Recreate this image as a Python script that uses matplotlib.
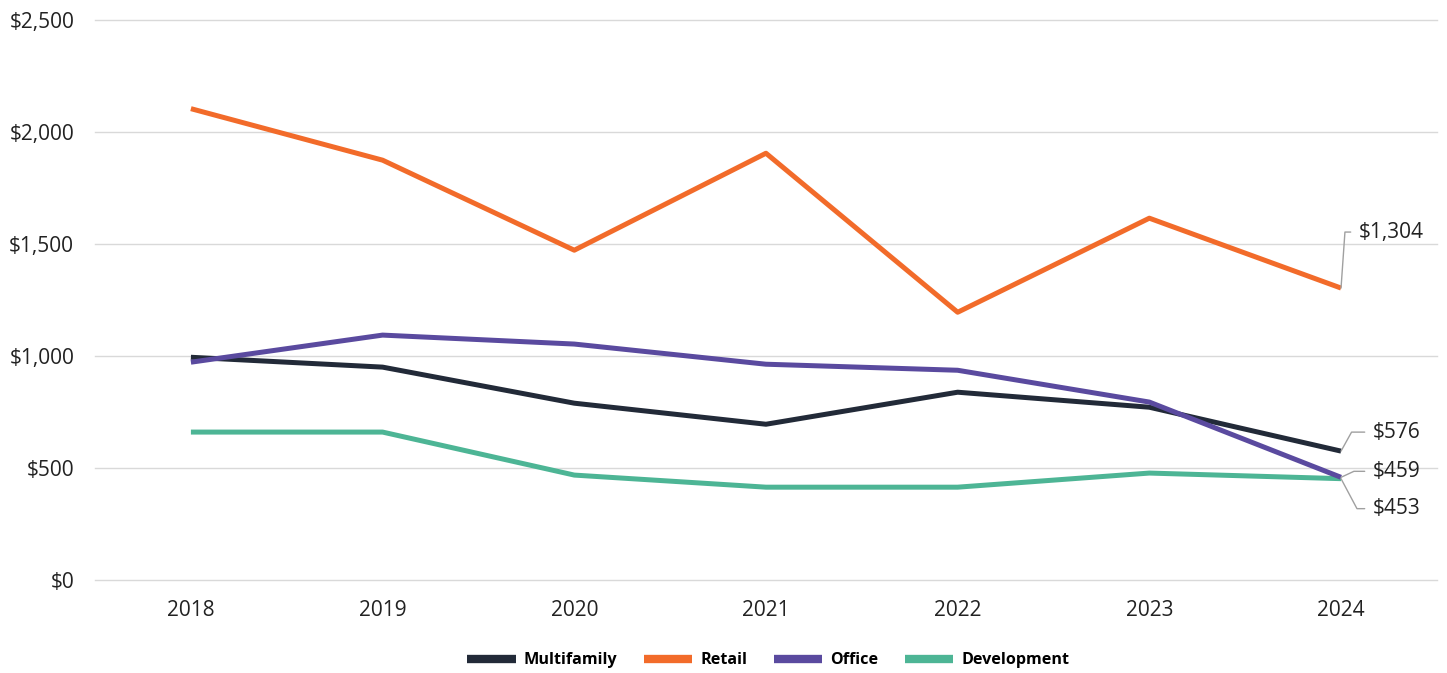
import numpy as np
import matplotlib.pyplot as plt
from matplotlib.ticker import FuncFormatter

# Werte
years = ['2018', '2019', '2020', '2021', '2022', '2023', '2024']
multifamily = [995, 951, 790, 696, 839, 772, 576]
retail = [2105, 1875, 1473, 1906, 1196, 1616, 1304]
office = [973, 1094, 1054, 964, 937, 795, 459]
development = [661, 661, 469, 415, 415, 478, 453]

series_names = ['Multifamily', 'Retail', 'Office', 'Development']
colors = ['#222a38', '#f26b2a', '#5a4a9f', '#4db595']
end_labels = ['$576', '$1,304', '$459', '$453']
# Versatz der Endbeschriftungen (Pixel) und Winkel der Fuehrungslinie
label_offsets = [(32, 19), (18, 56), (32, 6), (32, -30)]
leader_angles = [61, 86, 25, -62]

plt.rcParams['font.family'] = ['Open Sans', 'DejaVu Sans']

fig = plt.figure(figsize=(14.47, 6.73), dpi=100, facecolor='w')
ax = fig.add_axes([0.0657, 0.138, 0.9273, 0.832])

x = np.arange(len(years))
all_series = [multifamily, retail, office, development]
zorders = [3, 3, 4, 2]
for vals, name, col, zo in zip(all_series, series_names, colors, zorders):
    ax.plot(x, vals, color=col, lw=3.6, label=name, zorder=zo,
            solid_capstyle='butt')

# Endbeschriftungen mit Fuehrungslinien
for vals, txt, off, ang in zip(all_series, end_labels, label_offsets,
                               leader_angles):
    ax.annotate(txt, xy=(x[-1], vals[-1]), xytext=off,
                textcoords='offset pixels', fontsize=15, color='#222222',
                va='center', ha='left', zorder=6,
                arrowprops=dict(arrowstyle='-', color='#a0a0a0', lw=1,
                                shrinkA=4, shrinkB=0,
                                connectionstyle=f'angle,angleA=0,angleB={ang},rad=0',
                                relpos=(0, 0.5)))

ax.set_xlim(-0.5, len(years) - 0.5)
ax.set_ylim(0, 2500)
ax.set_xticks(x)
ax.set_xticklabels(years)
ax.set_yticks(np.arange(0, 2501, 500))
ax.yaxis.set_major_formatter(FuncFormatter(lambda v, p: f'${v:,.0f}'))
ax.tick_params(axis='both', length=0, labelsize=15, colors='#222222')
ax.tick_params(axis='x', pad=14)
ax.tick_params(axis='y', pad=15)
ax.grid(axis='y', color='#d9d9d9', lw=1)
for gl in ax.get_ygridlines():
    gl.set_clip_on(False)
ax.set_axisbelow(True)
for s in ax.spines.values():
    s.set_visible(False)

leg = fig.legend(loc='center', bbox_to_anchor=(0.531, 0.019), ncol=4,
                 frameon=False, handlelength=3.0, handletextpad=0.5,
                 columnspacing=1.65, prop={'weight': 'bold', 'size': 11.6})
for line in leg.get_lines():
    line.set_linewidth(6)

fig.savefig('out.png', dpi=100, facecolor='w')
